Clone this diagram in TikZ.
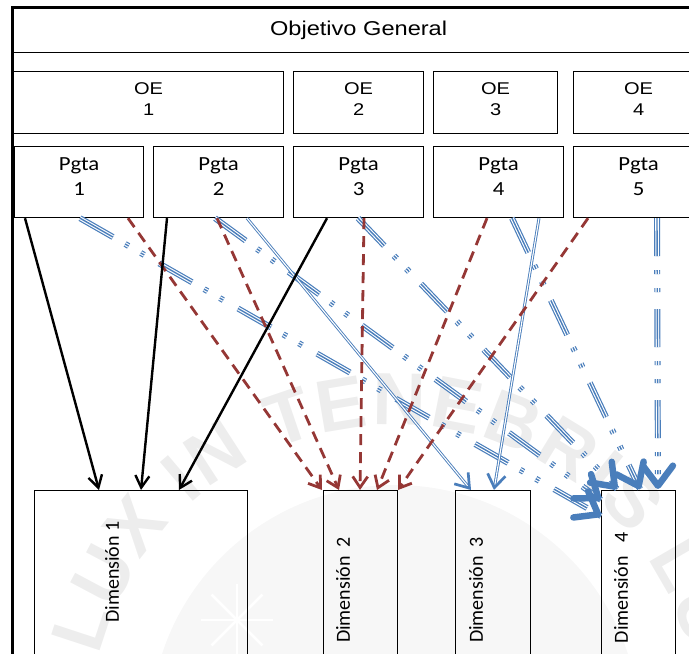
\documentclass[tikz,border=0pt]{standalone}
\usepackage{fontspec}
\setmainfont{Liberation Sans}
\newfontfamily\calibri{Carlito}
\usepackage{graphicx}
\usetikzlibrary{arrows.meta,calc,decorations.text}
\definecolor{linkblue}{RGB}{74,126,187}
\definecolor{linkred}{RGB}{149,55,53}
% horizontally widened lettering
\newcommand\hstretch[2][1.18]{\scalebox{#1}[1]{#2}}

\begin{document}
\begin{tikzpicture}[x=1pt,y=1pt,
  box/.style 2 args={draw=black, line width=1.2pt, rectangle, minimum width=#1,
    minimum height=#2, inner sep=0pt, anchor=north west},
  arial/.style={font=\fontsize{17pt}{21pt}\selectfont, align=center,
    inner sep=0pt, anchor=north},
  cali/.style={font=\calibri\fontsize{20pt}{25pt}\selectfont, align=center,
    inner sep=0pt, anchor=north},
  dimlabel/.style={font=\calibri\fontsize{20pt}{24pt}\selectfont, rotate=90,
    inner sep=0pt},
  solidlink/.style={draw=black, line width=2.4pt,
    -{Straight Barb[length=12pt,width=14pt]}},
  redlink/.style={draw=linkred, line width=2.8pt, dash pattern=on 11pt off 7pt,
    -{Straight Barb[length=11pt,width=15pt]}},
  thinblue/.style={draw=linkblue, double=white, line width=0.9pt,
    double distance=1.1pt},
  thintip/.style={draw=linkblue, line width=0.6pt,
    -{Straight Barb[length=13pt,width=18pt,line width=2.7pt]}},
  ddpat/.style={dash pattern=on 38pt off 14pt on 4pt off 14pt on 4pt off 17pt},
  tripleblue/.style={draw=linkblue, line width=6pt, ddpat,
    postaction={draw=white, line width=3.6pt, ddpat},
    postaction={draw=linkblue, line width=1.4pt, ddpat}},
  bigtip/.style={draw=linkblue, line width=0.8pt,
    -{Straight Barb[length=20pt,width=30pt,line width=6.5pt,round]}},
]
\clip (0,0) rectangle (689,654);

% faint emblem in the background
\fill[black!3] (395,-76) circle[radius=245];
\foreach \a in {0,45,...,315} \draw[white, line width=2.5pt] (237,34) -- ++(\a:36);
\path[decorate, decoration={text along path, text align={fit to path},
    text color=black!7,
    text={|\fontsize{74pt}{74pt}\selectfont\bfseries|LUX IN TENEBRIS LUCET}}]
  (395,-76) ++(166:305) arc[start angle=166, end angle=-14, radius=305];

% outer frame
\draw[line width=3pt] (12,-20) -- (12,646) -- (720,646);

% general objective
\node[box={692pt}{44pt}, font=\fontsize{20pt}{24pt}\selectfont] (obj) at (12,646)
  {\hstretch{Objetivo General}};

% specific objectives
\node[box={270pt}{62pt}] (oe1) at (13,583) {};
\node[box={130pt}{62pt}] (oe2) at (293,583) {};
\node[box={124pt}{62pt}] (oe3) at (433,583) {};
\node[box={130pt}{62pt}] (oe4) at (573,583) {};
\node[arial] (oe1t) at ([yshift=-11pt]oe1.north) {\hstretch{OE}\\\hstretch{1}};
\node[arial] (oe2t) at ([yshift=-11pt]oe2.north) {\hstretch{OE}\\\hstretch{2}};
\node[arial] (oe3t) at ([yshift=-11pt]oe3.north) {\hstretch{OE}\\\hstretch{3}};
\node[arial] (oe4t) at ([yshift=-11pt]oe4.north) {\hstretch{OE}\\\hstretch{4}};

% questions
\node[box={129pt}{71pt}] (p1) at (14,508) {};
\node[box={130pt}{71pt}] (p2) at (153,508) {};
\node[box={130pt}{71pt}] (p3) at (293,508) {};
\node[box={130pt}{71pt}] (p4) at (433,508) {};
\node[box={130pt}{71pt}] (p5) at (573,508) {};
\node[cali] (p1t) at ([yshift=-11pt]p1.north) {\hstretch[1.14]{Pgta}\\\hstretch[1.14]{1}};
\node[cali] (p2t) at ([yshift=-11pt]p2.north) {\hstretch[1.14]{Pgta}\\\hstretch[1.14]{2}};
\node[cali] (p3t) at ([yshift=-11pt]p3.north) {\hstretch[1.14]{Pgta}\\\hstretch[1.14]{3}};
\node[cali] (p4t) at ([yshift=-11pt]p4.north) {\hstretch[1.14]{Pgta}\\\hstretch[1.14]{4}};
\node[cali] (p5t) at ([yshift=-11pt]p5.north) {\hstretch[1.14]{Pgta}\\\hstretch[1.14]{5}};

% dimensions
\node[box={213pt}{220pt}] (d1) at (34,164) {};
\node[box={74pt}{220pt}] (d2) at (323,164) {};
\node[box={75pt}{220pt}] (d3) at (455,164) {};
\node[box={74pt}{220pt}] (d4) at (601,164) {};
\node[dimlabel] (d1t) at ([xshift=78pt,yshift=-82pt]d1.north west) {Dimensión 1};
\node[dimlabel] (d2t) at ([xshift=20pt,yshift=-100pt]d2.north west) {Dimensión\ \ 2};
\node[dimlabel] (d3t) at ([xshift=21pt,yshift=-100pt]d3.north west) {Dimensión\ \ 3};
\node[dimlabel] (d4t) at ([xshift=20pt,yshift=-98pt]d4.north west) {Dimensión\ \ \ 4};

% connector ends
\coordinate (k1s) at ([xshift=11pt]p1.south west);
\coordinate (k2s) at ([xshift=14pt]p2.south west);
\coordinate (k3s) at ([xshift=34pt]p3.south west);
\coordinate (k1e) at ([xshift=65pt]d1.north west);
\coordinate (k2e) at ([xshift=107pt]d1.north west);
\coordinate (k3e) at ([xshift=145pt]d1.north west);

\coordinate (r1s) at ([xshift=114pt]p1.south west);
\coordinate (r2s) at ([xshift=64pt]p2.south west);
\coordinate (r3s) at ([xshift=71pt]p3.south west);
\coordinate (r4s) at ([xshift=54pt]p4.south west);
\coordinate (r5s) at ([xshift=15pt]p5.south west);
\coordinate (r1e) at ([xshift=-1pt]d2.north west);
\coordinate (r2e) at ([xshift=16pt]d2.north west);
\coordinate (r3e) at ([xshift=37pt]d2.north west);
\coordinate (r4e) at ([xshift=54pt]d2.north west);
\coordinate (r5e) at ([xshift=75pt]d2.north west);

\coordinate (t1s) at ([xshift=94pt]p2.south west);
\coordinate (t2s) at ([xshift=106pt]p4.south west);
\coordinate (t1e) at ([xshift=16pt]d3.north west);
\coordinate (t2e) at ([xshift=39pt]d3.north west);

\coordinate (as) at ([xshift=66pt]p1.south west);
\coordinate (bs) at ([xshift=62pt]p2.south west);
\coordinate (cs) at ([xshift=65pt]p3.south west);
\coordinate (ds) at ([xshift=79pt]p4.south west);
\coordinate (es) at ([xshift=84pt]p5.south west);
\coordinate (ae) at ([yshift=-26pt]d4.north west);
\coordinate (be) at ([yshift=-10pt]d4.north west);
\coordinate (ce) at ([xshift=16pt,yshift=1pt]d4.north west);
\coordinate (de) at ([xshift=39pt,yshift=1pt]d4.north west);
\coordinate (ee) at ([xshift=57pt,yshift=1pt]d4.north west);

% dash-dot-dot links to dimension 4
\foreach \n in {a,b,c,d,e} \draw[tripleblue] (\n s) -- (\n e);

% thin double links to dimension 3
\foreach \n in {t1,t2} {
  \draw[thinblue, shorten >=2pt] (\n s) -- (\n e);
  \draw[thintip] ($(\n e)!3pt!(\n s)$) -- (\n e);
}

% dashed links to dimension 2
\foreach \n in {r1,r2,r3,r4,r5} \draw[redlink] (\n s) -- (\n e);

% solid links to dimension 1
\foreach \n in {k1,k2,k3} \draw[solidlink] (\n s) -- (\n e);

% heavy heads of the dimension 4 links
\foreach \n in {a,b,c,d,e} \draw[bigtip] ($(\n e)!4pt!(\n s)$) -- (\n e);
\end{tikzpicture}
\end{document}
